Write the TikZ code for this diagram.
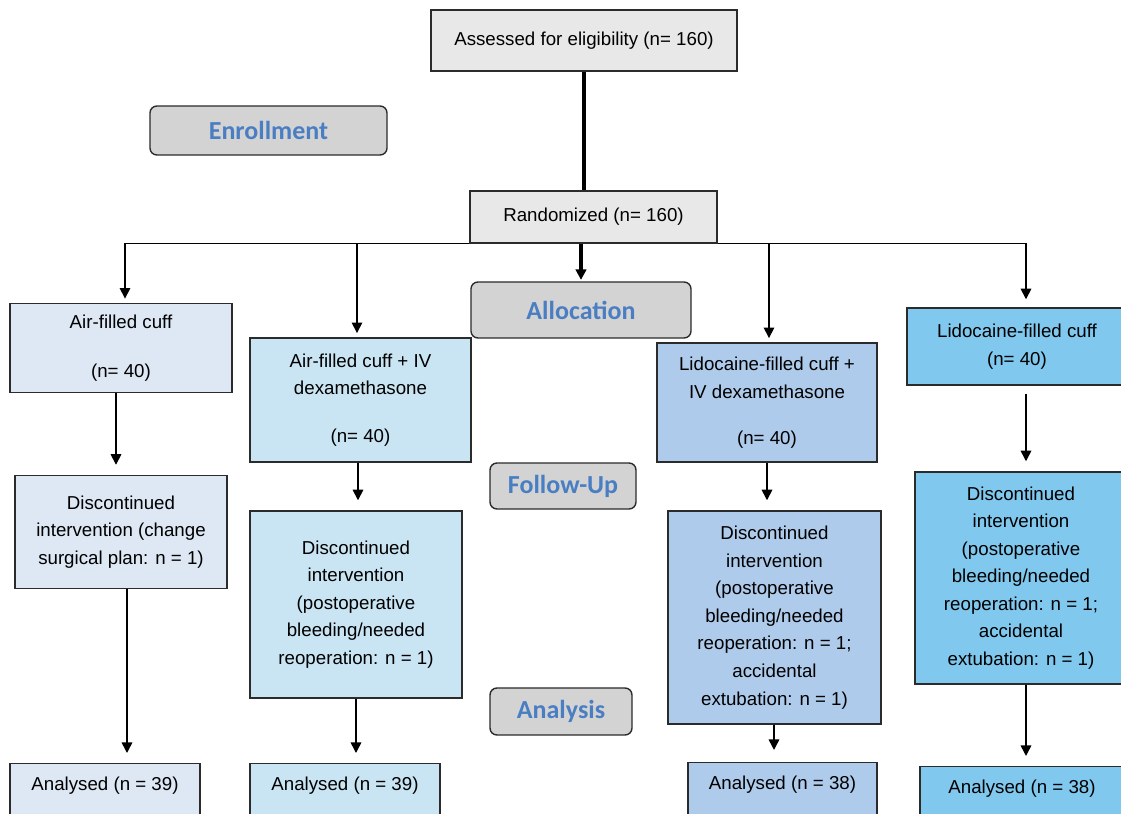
\documentclass[tikz,border=0pt]{standalone}
\usepackage{fontspec}
\setmainfont{Liberation Sans}
\newfontfamily\stagefont{Carlito}
\usetikzlibrary{arrows.meta, positioning}

\definecolor{boxgray}{HTML}{E8E8E8}
\definecolor{stagegray}{HTML}{D3D3D3}
\definecolor{stageblue}{HTML}{4A7EC2}
\definecolor{edgegray}{HTML}{2B2B2B}
\definecolor{colA}{HTML}{DEE8F4}
\definecolor{colB}{HTML}{C9E5F3}
\definecolor{colC}{HTML}{AECBEB}
\definecolor{colD}{HTML}{80C8EE}

\begin{document}
\begin{tikzpicture}[x=0.025cm, y=-0.025cm, ->, >={Triangle[width=7.5pt,length=7.5pt]},
	box/.style = {draw=edgegray, line width=1pt, align=center, inner sep=2pt,
		font=\fontsize{13.3}{19.6}\selectfont},
	stage/.style = {draw=edgegray, line width=1pt, fill=stagegray, rounded corners=5pt,
		font=\stagefont\bfseries\fontsize{18.5}{20}\selectfont, text=stageblue},
	result/.style = {box, anchor=north, text height=12pt, text depth=30pt, inner ysep=7pt},
	link/.style = {draw=black, line width=1.1pt, shorten >=3pt},
	colstep/.style = {link, shorten >=0.25cm},
	trunk/.style = {draw=black, line width=2.4pt}]

	\useasboundingbox (0,0) rectangle (1121,814);
	\clip (0,0) rectangle (1121,814);

	% enrollment
	\node[box, fill=boxgray, minimum width=7.65cm, minimum height=1.525cm] (assess) at (584,40.5)
		{Assessed for eligibility (n= 160)};
	\node[stage, minimum width=5.925cm, minimum height=1.225cm] (enroll) at (268.5,130.5) {Enrollment};
	\node[box, fill=boxgray, minimum width=6.175cm, minimum height=1.3cm] (random) at (593.5,217)
		{Randomized (n= 160)};

	% stage labels
	\node[stage, minimum width=5.5cm, minimum height=1.4cm] (alloc) at (581,310) {Allocation};
	\node[stage, minimum width=3.65cm, minimum height=1.15cm] (follow) at (563,486) {Follow-Up};
	\node[stage, minimum width=3.55cm, minimum height=1.175cm] (analysis) at (561,711.5) {Analysis};

	% arms
	\node[box, fill=colA, minimum width=5.55cm, minimum height=2.225cm] (air) at (121,348)
		{Air-filled cuff\\[15pt](n= 40)};
	\node[box, fill=colB, minimum width=5.525cm, minimum height=3.1cm] (airiv) at (360.5,400)
		{Air-filled cuff + IV\\dexamethasone\\[14pt](n= 40)};
	\node[box, fill=colC, minimum width=5.5cm, minimum height=2.975cm] (lidoiv) at (767,402.5)
		{Lidocaine-filled cuff +\\IV dexamethasone\\[13pt](n= 40)};
	\node[box, fill=colD, minimum width=5.5cm, minimum height=1.925cm] (lido) at (1017,346.5)
		{Lidocaine-filled cuff\\(n= 40)};

	% follow-up
	\node[box, fill=colA, minimum width=5.3cm, minimum height=2.825cm] (stopA) at (121,532)
		{Discontinued\\intervention (change\\surgical plan: n = 1)};
	\node[box, fill=colB, minimum width=5.3cm, minimum height=4.675cm] (stopB) at (356,604.5)
		{Discontinued\\intervention\\(postoperative\\bleeding/needed\\reoperation: n = 1)};
	\node[box, fill=colC, minimum width=5.325cm, minimum height=5.325cm] (stopC) at (774.5,617.5)
		{Discontinued\\intervention\\(postoperative\\bleeding/needed\\reoperation: n = 1;\\accidental\\extubation: n = 1)};
	\node[box, fill=colD, minimum width=5.3cm, minimum height=5.3cm] (stopD) at (1021,578)
		{Discontinued\\intervention\\(postoperative\\bleeding/needed\\reoperation: n = 1;\\accidental\\extubation: n = 1)};

	% analysis
	\node[result, fill=colA, minimum width=4.75cm] (anA) at (105,763) {Analysed (n = 39)};
	\node[result, fill=colB, minimum width=4.75cm] (anB) at (345,763) {Analysed (n = 39)};
	\node[result, fill=colC, minimum width=4.725cm] (anC) at (782.5,762) {Analysed (n = 38)};
	\node[result, fill=colD, minimum width=5.1cm] (anD) at (1022,766) {Analysed (n = 38)};

	% connectors
	\draw[trunk, -] (assess.south) -- (assess.south |- random.north);
	\draw[trunk, shorten >=1pt] (alloc.north |- random.south) -- (alloc.north);
	\draw[link] (random.south west) -| ([xshift=0.1cm]air.north);
	\draw[link] (random.south west) -| ([xshift=-0.0875cm]airiv.north);
	\draw[link] (random.south east) -| ([xshift=0.05cm]lidoiv.north);
	\draw[link, shorten >=0.2cm] (random.south east) -| ([xshift=0.225cm]lido.north);

	\draw[colstep] ([xshift=-0.125cm]air.south) -- ([xshift=-0.125cm]air.south |- stopA.north);
	\draw[colstep] ([xshift=-0.0625cm]airiv.south) -- ([xshift=-0.0625cm]airiv.south |- stopB.north);
	\draw[colstep] (lidoiv.south) -- (lidoiv.south |- stopC.north);
	\draw[colstep, shorten <=0.2cm] ([xshift=0.225cm]lido.south) -- ([xshift=0.225cm]lido.south |- stopD.north);

	\draw[colstep] ([xshift=0.15cm]stopA.south) -- ([xshift=0.15cm]stopA.south |- anA.north);
	\draw[colstep] (stopB.south) -- (stopB.south |- anB.north);
	\draw[link, shorten >=0.3cm] ([xshift=-0.0125cm]stopC.south) -- ([xshift=-0.0125cm]stopC.south |- anC.north);
	\draw[colstep] ([xshift=0.125cm]stopD.south) -- ([xshift=0.125cm]stopD.south |- anD.north);
\end{tikzpicture}
\end{document}
